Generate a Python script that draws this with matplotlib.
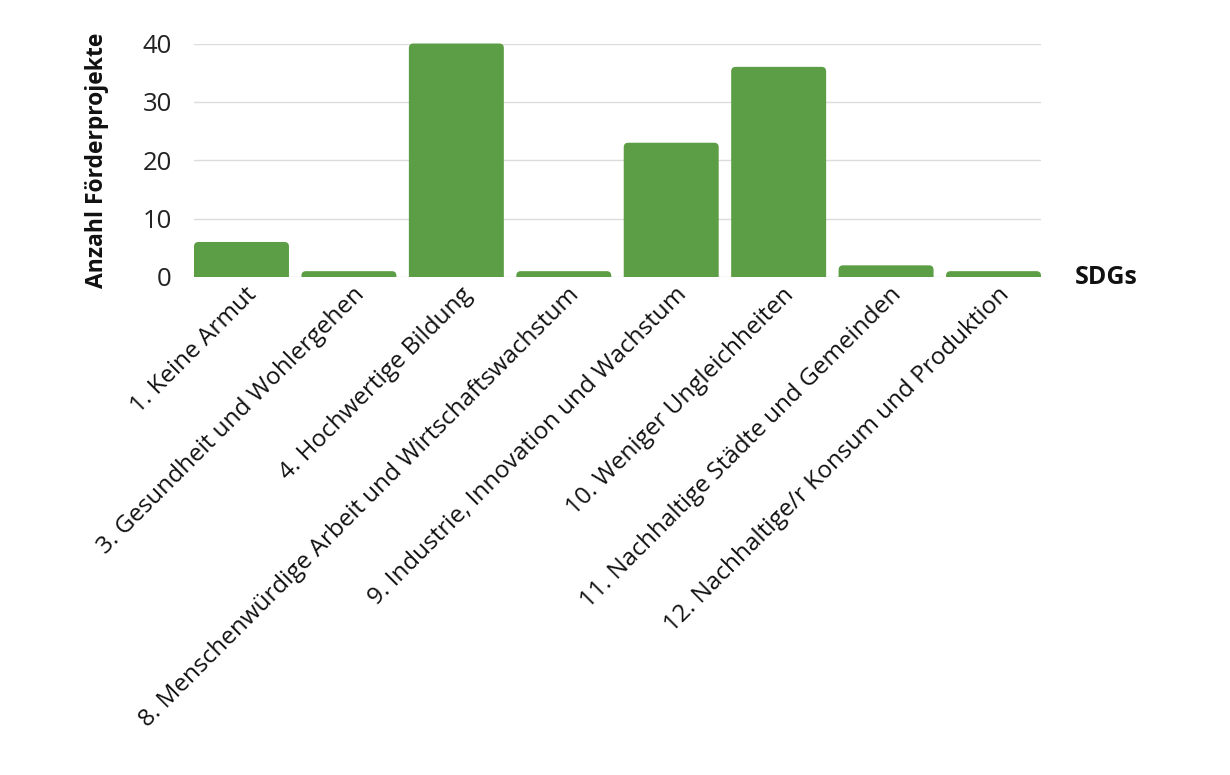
import matplotlib
matplotlib.use("Agg")
import matplotlib.pyplot as plt
from matplotlib.patches import FancyBboxPatch, Rectangle
import matplotlib.transforms as mtransforms

categories = [
    "1. Keine Armut",
    "3. Gesundheit und Wohlergehen",
    "4. Hochwertige Bildung",
    "8. Menschenwürdige Arbeit und Wirtschaftswachstum",
    "9. Industrie, Innovation und Wachstum",
    "10. Weniger Ungleichheiten",
    "11. Nachhaltige Städte und Gemeinden",
    "12. Nachhaltige/r Konsum und Produktion",
]
values = [6, 1, 40, 1, 23, 36, 2, 1]
yticks = [0, 10, 20, 30, 40]

FONT = ["Open Sans", "DejaVu Sans"]
plt.rcParams["font.family"] = FONT

W, H = 1230, 775
fig = plt.figure(figsize=(W / 100, H / 100), dpi=100)
ax = fig.add_axes([194 / W, 1 - 277 / H, (1041 - 194) / W, (277 - 43.5) / H])

bar_color = "#5c9e45"
width = 0.884
x = list(range(len(categories)))
bars = ax.bar(x, values, width=width, color=bar_color)
ax.set_xlim(-width / 2, len(categories) - 1 + width / 2)
ax.set_ylim(0, 40)

# rounded tops
ax_w_px = (1041 - 194)
ax_h_px = (277 - 43.5)
px_x = ax_w_px / (ax.get_xlim()[1] - ax.get_xlim()[0])
px_y = ax_h_px / (ax.get_ylim()[1] - ax.get_ylim()[0])
r_px = 4.5
aspect = px_x / px_y
clip_rect = Rectangle((ax.get_xlim()[0], 0), ax.get_xlim()[1] - ax.get_xlim()[0], 1000,
                      transform=ax.transData)
for b in bars:
    bx, bw, bh = b.get_x(), b.get_width(), b.get_height()
    b.set_visible(False)
    extra = r_px / px_y
    p = FancyBboxPatch((bx, -extra), bw, bh + extra,
                       boxstyle=f"round,pad=0,rounding_size={r_px / px_x}",
                       mutation_aspect=aspect, facecolor=bar_color, edgecolor="none",
                       zorder=3)
    ax.add_patch(p)
    p.set_clip_path(clip_rect)

ax.set_yticks(yticks)
ax.set_yticklabels([str(v) for v in yticks])
ax.yaxis.grid(True, color="#dcdcdc", linewidth=1.0)
ax.set_axisbelow(True)
for s in ax.spines.values():
    s.set_visible(False)
ax.tick_params(axis="y", length=0, pad=16, labelsize=18.5, labelcolor="#222222")
ax.tick_params(axis="x", length=0, pad=6)

ax.set_xticks(x)
ax.set_xticklabels(categories, rotation=45, ha="right", va="center",
                   rotation_mode="anchor", fontsize=17.5, color="#111111")
offset = mtransforms.ScaledTranslation(12 / 100, -6 / 100, fig.dpi_scale_trans)
for lbl in ax.get_xticklabels():
    lbl.set_transform(lbl.get_transform() + offset)

ax.set_ylabel("Anzahl Förderprojekte", fontsize=16.5, fontweight="bold", labelpad=24,
              color="#111111")
ax.annotate("SDGs", xy=(1, 0), xycoords="axes fraction", xytext=(34, 0),
            textcoords="offset pixels", ha="left", va="center",
            fontsize=18, fontweight="bold", color="#111111")

fig.savefig("out.png", dpi=100, facecolor="white")
